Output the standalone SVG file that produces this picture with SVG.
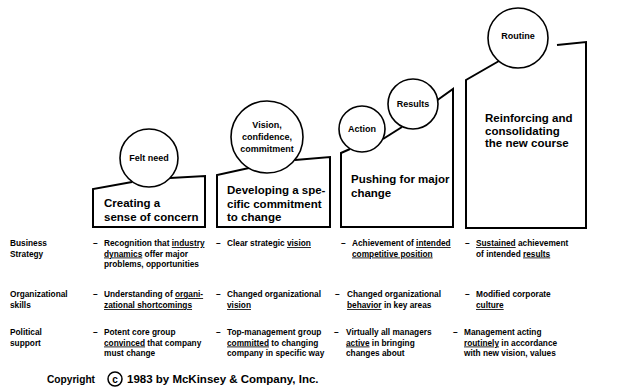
<svg xmlns="http://www.w3.org/2000/svg" width="618" height="391" viewBox="0 0 618 391">
<style>
.bx{fill:none;stroke:#000;stroke-width:2;stroke-linejoin:miter}
.cir{fill:#fff;stroke:#000;stroke-width:1.6}
.ln{fill:none;stroke:#000;stroke-width:2}
text{font-family:"Liberation Sans",Arial,sans-serif;font-weight:bold;fill:#000}
.cl{font-size:9px;text-anchor:middle}
.bt{font-size:11.5px}
.rt{font-size:8.3px}
.u{text-decoration:underline}
.cp{font-size:11.5px}
</style>
<rect width="618" height="391" fill="#fff"/>

<g id="stage-felt-need">
<path class="bx" d="M132,182 L93,189 L93,227 L205,227 L205,176 L170,178"/>
<circle class="cir" cx="149" cy="158" r="29"/>
<text class="cl" x="149" y="161">Felt need</text>
<text class="bt" x="104" y="207">Creating a</text>
<text class="bt" x="104" y="221">sense of concern</text>
</g>

<g id="stage-vision">
<path class="bx" d="M249,168 L217,175 L217,227 L330,227 L330,157 L295,160"/>
<circle class="cir" cx="267" cy="137" r="36"/>
<text class="cl" x="267" y="128">Vision,</text>
<text class="cl" x="267" y="140">confidence,</text>
<text class="cl" x="267" y="151.5">commitment</text>
<text class="bt" x="227" y="194">Developing a spe-</text>
<text class="bt" x="227" y="207.5">cific commitment</text>
<text class="bt" x="227" y="221">to change</text>
</g>

<g id="stage-action-results">
<path class="bx" d="M350,149 L341,153 L341,227 L453,227 L453,89 L437.5,100"/>
<circle class="cir" cx="362" cy="129" r="23"/>
<text class="cl" x="362" y="132">Action</text>
<circle class="cir" cx="413" cy="104" r="25"/>
<text class="cl" x="413" y="107">Results</text>
<text class="bt" x="351" y="183">Pushing for major</text>
<text class="bt" x="351" y="196.5">change</text>
</g>

<g id="stage-routine">
<path class="bx" d="M499,61 L466,80 L466,228 L586,228 L586,42 L557,45"/>
<circle class="cir" cx="518" cy="38" r="30"/>
<text class="cl" x="518" y="39">Routine</text>
<text class="bt" x="485" y="122">Reinforcing and</text>
<text class="bt" x="485" y="134.5">consolidating</text>
<text class="bt" x="485" y="147">the new course</text>
</g>

<g id="connectors">
<line class="ln" x1="383" y1="139" x2="402" y2="127"/>
</g>

<g id="row-labels">
<text class="rt" x="10" y="246">Business</text>
<text class="rt" x="10" y="256.5">Strategy</text>
<text class="rt" x="10" y="297">Organizational</text>
<text class="rt" x="10" y="308">skills</text>
<text class="rt" x="10" y="335">Political</text>
<text class="rt" x="10" y="345.5">support</text>
</g>

<g id="col-1">
<text class="rt" x="93" y="246">–</text>
<text class="rt" x="104" y="246">Recognition that <tspan class="u">industry</tspan></text>
<text class="rt" x="104" y="256.5"><tspan class="u">dynamics</tspan> offer major</text>
<text class="rt" x="104" y="267">problems, opportunities</text>
<text class="rt" x="93" y="297">–</text>
<text class="rt" x="104" y="297">Understanding of <tspan class="u">organi-</tspan></text>
<text class="rt" x="104" y="308"><tspan class="u">zational shortcomings</tspan></text>
<text class="rt" x="93" y="335">–</text>
<text class="rt" x="104" y="335">Potent core group</text>
<text class="rt" x="104" y="345.5"><tspan class="u">convinced</tspan> that company</text>
<text class="rt" x="104" y="356">must change</text>
</g>

<g id="col-2">
<text class="rt" x="216" y="246">–</text>
<text class="rt" x="227" y="246">Clear strategic <tspan class="u">vision</tspan></text>
<text class="rt" x="216" y="297">–</text>
<text class="rt" x="227" y="297">Changed organizational</text>
<text class="rt" x="227" y="308"><tspan class="u">vision</tspan></text>
<text class="rt" x="216" y="335">–</text>
<text class="rt" x="227" y="335">Top-management group</text>
<text class="rt" x="227" y="345.5"><tspan class="u">committed</tspan> to changing</text>
<text class="rt" x="227" y="356">company in specific way</text>
</g>

<g id="col-3">
<text class="rt" x="341" y="246">–</text>
<text class="rt" x="352" y="246">Achievement of <tspan class="u">intended</tspan></text>
<text class="rt" x="352" y="256.5"><tspan class="u">competitive position</tspan></text>
<text class="rt" x="335" y="297">–</text>
<text class="rt" x="347" y="297">Changed organizational</text>
<text class="rt" x="347" y="308"><tspan class="u">behavior</tspan> in key areas</text>
<text class="rt" x="334" y="335">–</text>
<text class="rt" x="346" y="335">Virtually all managers</text>
<text class="rt" x="346" y="345.5"><tspan class="u">active</tspan> in bringing</text>
<text class="rt" x="346" y="356">changes about</text>
</g>

<g id="col-4">
<text class="rt" x="465" y="246">–</text>
<text class="rt" x="476" y="246"><tspan class="u">Sustained</tspan> achievement</text>
<text class="rt" x="476" y="256.5">of intended <tspan class="u">results</tspan></text>
<text class="rt" x="465" y="297">–</text>
<text class="rt" x="476" y="297">Modified corporate</text>
<text class="rt" x="476" y="308"><tspan class="u">culture</tspan></text>
<text class="rt" x="453" y="335">–</text>
<text class="rt" x="464" y="335">Management acting</text>
<text class="rt" x="464" y="345.5"><tspan class="u">routinely</tspan> in accordance</text>
<text class="rt" x="464" y="356">with new vision, values</text>
</g>

<g id="copyright">
<text class="cp" x="47" y="383" textLength="48" lengthAdjust="spacingAndGlyphs">Copyright</text>
<circle cx="115" cy="379" r="7" fill="none" stroke="#000" stroke-width="1.5"/>
<text class="cp" x="115" y="382.5" text-anchor="middle" style="font-size:10px">c</text>
<text class="cp" x="127" y="383">1983 by McKinsey &amp; Company, Inc.</text>
</g>
</svg>
